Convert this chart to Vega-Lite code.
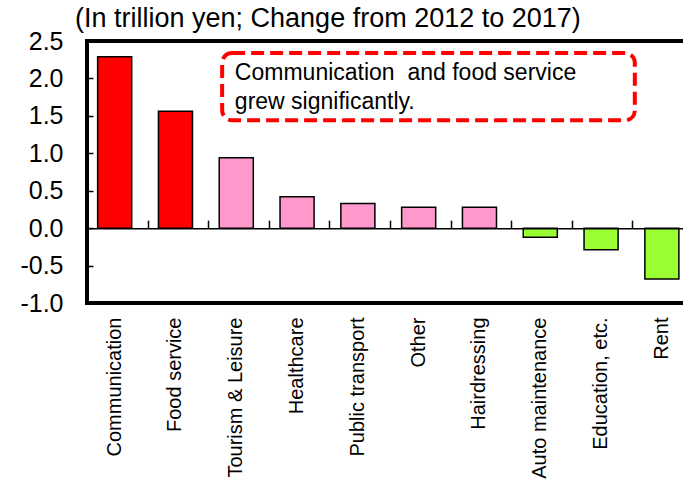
{
  "$schema": "https://vega.github.io/schema/vega-lite/v6.json",
  "width": 606,
  "height": 262,
  "autosize": {"type": "none"},
  "padding": {"left": 87, "top": 41, "right": -10, "bottom": 190},
  "background": "white",
  "title": {
    "text": "(In trillion yen; Change from 2012 to 2017)",
    "anchor": "start",
    "frame": "group",
    "dx": -12,
    "offset": -4,
    "fontSize": 27,
    "font": "Liberation Sans",
    "fontWeight": "normal",
    "color": "black"
  },
  "config": {
    "view": {"stroke": "black", "strokeWidth": 4},
    "font": "Liberation Sans",
    "axisY": {
      "values": [-1, -0.5, 0, 0.5, 1, 1.5, 2, 2.5],
      "labelExpr": "replace(format(datum.value, '.1f'), '\u2212', '-')",
      "labelFontSize": 25, "labelColor": "black", "labelFont": "Liberation Sans",
      "labelOverlap": false, "labelBound": false,
      "tickSize": -6, "tickColor": "black", "tickWidth": 1.5,
      "labelPadding": 30, "domain": false, "grid": false, "title": null
    }
  },
  "datasets": {
    "bars": [
      {"category": "Communication", "value": 2.29, "group": "large"},
      {"category": "Food service", "value": 1.56, "group": "large"},
      {"category": "Tourism & Leisure", "value": 0.94, "group": "positive"},
      {"category": "Healthcare", "value": 0.42, "group": "positive"},
      {"category": "Public transport", "value": 0.33, "group": "positive"},
      {"category": "Other", "value": 0.28, "group": "positive"},
      {"category": "Hairdressing", "value": 0.28, "group": "positive"},
      {"category": "Auto maintenance", "value": -0.12, "group": "negative"},
      {"category": "Education, etc.", "value": -0.29, "group": "negative"},
      {"category": "Rent", "value": -0.68, "group": "negative"}
    ],
    "box": [{"x": 2.23, "x2": 9.04, "value": 2.34, "value2": 1.44}],
    "note": [
      {"text": "Communication\u00a0 and food service", "x": 2.44, "value": 2.07},
      {"text": "grew significantly.", "x": 2.44, "value": 1.68}
    ]
  },
  "layer": [
    {
      "data": {"name": "bars"},
      "mark": {"type": "bar", "stroke": "black", "strokeWidth": 1.5},
      "encoding": {
        "x": {
          "field": "category", "type": "nominal", "sort": null, "title": null,
          "scale": {"paddingInner": 0.44, "paddingOuter": 0.2035, "align": 0.43},
          "axis": {
            "orient": "bottom",
            "labelAngle": -90, "labelFontSize": 20, "labelColor": "black",
            "labelPadding": 14, "ticks": false, "domain": false, "labelLimit": 0,
            "labelFont": "Liberation Sans"
          }
        },
        "y": {
          "field": "value", "type": "quantitative", "title": null,
          "scale": {"domain": [-1, 2.5], "nice": false, "zero": false},
          "axis": {"values": [-1, -0.5, 0, 0.5, 1, 1.5, 2, 2.5], "tickCount": 8}
        },
        "color": {
          "field": "group", "type": "nominal", "legend": null,
          "scale": {"domain": ["large", "positive", "negative"], "range": ["#FF0000", "#FF99CC", "#99FF33"]}
        }
      }
    },
    {
      "data": {"name": "bars"},
      "mark": {"type": "bar", "opacity": 0},
      "encoding": {
        "x": {
          "field": "category", "type": "nominal", "sort": null, "title": null,
          "scale": {"paddingInner": 0, "paddingOuter": 0},
          "axis": {
            "orient": "bottom",
            "labels": false, "offset": -74.86, "tickBand": "extent",
            "tickSize": -8, "tickColor": "black", "tickWidth": 1.5,
            "domainColor": "black", "domainWidth": 1.5, "zindex": 1
          }
        },
        "y": {
          "field": "value", "type": "quantitative", "title": null,
          "scale": {"domain": [-1, 2.5], "nice": false, "zero": false},
          "axis": {"values": [-1, -0.5, 0, 0.5, 1, 1.5, 2, 2.5], "tickCount": 8}
        }
      }
    },
    {
      "data": {"name": "box"},
      "mark": {
        "type": "rect", "fill": "white", "stroke": "#FF0000", "strokeWidth": 4,
        "strokeDash": [13, 6], "cornerRadius": 10
      },
      "encoding": {
        "x": {"field": "x", "type": "quantitative", "scale": {"domain": [0, 10], "nice": false, "zero": false}, "axis": null},
        "x2": {"field": "x2"},
        "y": {
          "field": "value", "type": "quantitative", "title": null,
          "scale": {"domain": [-1, 2.5], "nice": false, "zero": false},
          "axis": {"values": [-1, -0.5, 0, 0.5, 1, 1.5, 2, 2.5], "tickCount": 8}
        },
        "y2": {"field": "value2"}
      }
    },
    {
      "data": {"name": "note"},
      "mark": {
        "type": "text", "align": "left", "baseline": "middle",
        "fontSize": 23, "font": "Liberation Sans", "color": "black"
      },
      "encoding": {
        "x": {"field": "x", "type": "quantitative", "scale": {"domain": [0, 10], "nice": false, "zero": false}, "axis": null},
        "y": {
          "field": "value", "type": "quantitative", "title": null,
          "scale": {"domain": [-1, 2.5], "nice": false, "zero": false},
          "axis": {"values": [-1, -0.5, 0, 0.5, 1, 1.5, 2, 2.5], "tickCount": 8}
        },
        "text": {"field": "text"}
      }
    }
  ],
  "resolve": {"scale": {"x": "independent"}, "axis": {"x": "independent"}}
}
